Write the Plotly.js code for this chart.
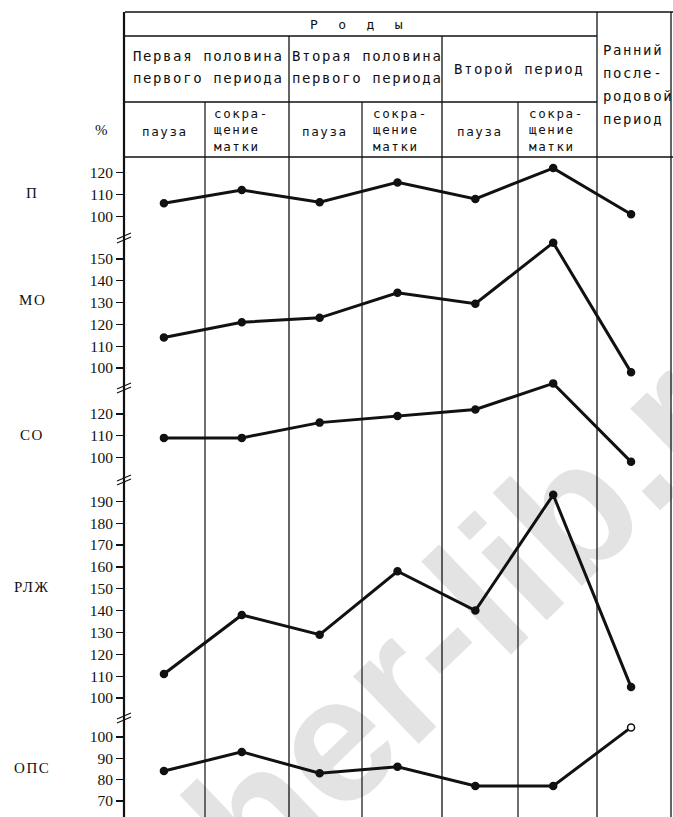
<!DOCTYPE html>
<html>
<head>
<meta charset="utf-8">
<script src="https://cdn.plot.ly/plotly-3.0.1.min.js"></script>
<style>
html,body{margin:0;padding:0;background:#fff;}
#chart{width:673px;height:817px;}
.annotation-text{letter-spacing:1.6px;}
</style>
</head>
<body>
<div id="chart"></div>
<script>
// ---------- DATA ----------
const categories = [
  'Первая половина первого периода — пауза',
  'Первая половина первого периода — сокращение матки',
  'Вторая половина первого периода — пауза',
  'Вторая половина первого периода — сокращение матки',
  'Второй период — пауза',
  'Второй период — сокращение матки',
  'Ранний послеродовой период'
];
const panelNames = ['П', 'МО', 'СО', 'РЛЖ', 'ОПС'];
const valuesP   = [106, 112, 106.5, 115.5, 108, 122, 101];
const valuesMO  = [114, 121, 123, 134.5, 129.5, 157.5, 98];
const valuesSO  = [109, 109, 116, 119, 122, 134, 98];
const valuesRLZ = [111, 138, 129, 158, 140, 193, 105];
const valuesOPS = [84, 93, 83, 86, 77, 77, 104.5];
const ticksP   = [100, 110, 120];
const ticksMO  = [100, 110, 120, 130, 140, 150];
const ticksSO  = [100, 110, 120];
const ticksRLZ = [100, 110, 120, 130, 140, 150, 160, 170, 180, 190];
const ticksOPS = [70, 80, 90, 100];
const headerTop = 'Р  о  д  ы';
const headerGroups = [['Первая половина', 'первого периода'], ['Вторая половина', 'первого периода'], ['Второй период']];
const headerLast = ['Ранний', 'после-', 'родовой', 'период'];
const subPause = 'пауза';
const subContraction = ['сокра-', 'щение', 'матки'];
const unitLabel = '%';
const watermark = 'teacher-lib.ru';

// ---------- LAYOUT GEOMETRY (pixels) ----------
const W = 673, H = 817, ML = 125, MR = 3, MT = 157, MB = 0;
const PW = W - ML - MR, PH = H - MT - MB;
const X = px => (px - ML) / PW;
const Y = py => (H - MB - py) / PH;

const panelGeom = [
  {top: 157, bot: 238, y100: 216.5, k: 2.2,   labelY: 193},
  {top: 238, bot: 388, y100: 368,   k: 2.18,  labelY: 300},
  {top: 375, bot: 480, y100: 457.5, k: 2.18,  labelY: 435},
  {top: 480, bot: 718, y100: 698,   k: 2.185, labelY: 587},
  {top: 718, bot: 817, y100: 737,   k: 2.13,  labelY: 768}
];
const panelValues = [valuesP, valuesMO, valuesSO, valuesRLZ, valuesOPS];
const panelTicks = [ticksP, ticksMO, ticksSO, ticksRLZ, ticksOPS];

const INK = '#111';
const traces = [];
const layout = {
  width: W, height: H,
  margin: {l: ML, r: MR, t: MT, b: MB, pad: 0},
  paper_bgcolor: '#fff', plot_bgcolor: 'rgba(0,0,0,0)',
  showlegend: false,
  xaxis: {type: 'category', range: [-0.5, 6.5], visible: false, fixedrange: true, domain: [0, 1]},
  shapes: [], annotations: []
};

panelNames.forEach((name, i) => {
  const g = panelGeom[i];
  const axName = i === 0 ? 'yaxis' : 'yaxis' + (i + 1);
  const ref = i === 0 ? 'y' : 'y' + (i + 1);
  const lo = 100 - (g.bot - g.y100) / g.k;
  const hi = 100 + (g.y100 - g.top) / g.k;
  layout[axName] = {
    anchor: 'x', domain: [Y(g.bot), Y(g.top)], range: [lo, hi],
    tickmode: 'array', tickvals: panelTicks[i], ticktext: panelTicks[i].map(String),
    ticks: 'outside', ticklen: 8, tickwidth: 1.3, tickcolor: INK,
    tickfont: {family: 'Liberation Serif', size: 15.5, color: INK},
    showgrid: false, zeroline: false, showline: false, fixedrange: true
  };
  const n = panelValues[i].length;
  traces.push({
    type: 'scatter', mode: 'lines+markers', name: name,
    x: categories, y: panelValues[i], xaxis: 'x', yaxis: ref,
    line: {color: INK, width: 3},
    marker: {size: 7, color: panelValues[i].map((v, j) => (i === 4 && j === n - 1) ? '#fff' : INK),
             line: {color: INK, width: 1.5}},
    cliponaxis: false, hoverinfo: 'skip'
  });
  layout.annotations.push({
    xref: 'paper', yref: 'paper', x: X(32), y: Y(g.labelY), text: name, showarrow: false,
    xanchor: 'center', yanchor: 'middle', font: {family: 'Liberation Serif', size: 15, color: INK}
  });
});

// ---------- frame lines ----------
function seg(x0, y0, x1, y1, w) {
  layout.shapes.push({type: 'line', xref: 'paper', yref: 'paper', x0: X(x0), y0: Y(y0), x1: X(x1), y1: Y(y1),
    line: {color: INK, width: w || 1.2}, layer: 'above'});
}
seg(125, 12, 673, 12, 1.6);
seg(125, 36, 597, 36, 1.4);
seg(125, 102, 597, 102, 1.4);
seg(125, 157, 673, 157, 1.6);
seg(124, 12, 124, 817, 2.2);
[205, 362, 518].forEach(x => seg(x, 102, x, 817, 1.2));
[289, 442].forEach(x => seg(x, 36, x, 817, 1.3));
seg(597, 12, 597, 817, 1.3);
seg(671, 12, 671, 817, 1.3);
[238, 388, 480, 718].forEach(b => {
  seg(117, b + 1, 131, b - 5, 1.2);
  seg(117, b + 5, 131, b - 1, 1.2);
});

// ---------- header texts ----------
function txt(t, px, py, size, fam, xa) {
  layout.annotations.push({xref: 'paper', yref: 'paper', x: X(px), y: Y(py), text: t, showarrow: false,
    xanchor: xa || 'center', yanchor: 'middle', align: xa || 'center',
    font: {family: fam || 'DejaVu Sans Mono', size: size || 14, color: INK}});
}
txt(headerTop, 357, 24, 13);
txt(headerGroups[0][0], 208, 56); txt(headerGroups[0][1], 208, 78);
txt(headerGroups[1][0], 367, 56); txt(headerGroups[1][1], 367, 78);
txt(headerGroups[2][0], 519, 69);
headerLast.forEach((t, i) => txt(t, 601, 50 + i * 23, 14, null, 'left'));
[165, 325, 480].forEach(x => txt(subPause, x, 131, 12.5));
[212, 371, 527].forEach(x => txt(subContraction.join('<br>'), x, 130, 12.5, null, 'left'));
txt(unitLabel, 102, 130, 15, 'Liberation Serif');

// ---------- watermark ----------
const wAng = -44 * Math.PI / 180;
const wc = [355, 696], wd = [Math.cos(wAng), Math.sin(wAng)], wl = 300;
layout.shapes.push({
  type: 'line', xref: 'paper', yref: 'paper', layer: 'below',
  x0: X(wc[0] - wd[0] * wl), y0: Y(wc[1] - wd[1] * wl),
  x1: X(wc[0] + wd[0] * wl), y1: Y(wc[1] + wd[1] * wl),
  line: {width: 0, color: 'rgba(0,0,0,0)'},
  label: {text: '<b>' + watermark + '</b>', textangle: 'auto', textposition: 'middle', yanchor: 'middle',
          font: {family: 'Liberation Sans', size: 178, color: '#e3e3e3'}}
});

Plotly.newPlot('chart', traces, layout, {displayModeBar: false, staticPlot: true});
</script>
</body>
</html>
